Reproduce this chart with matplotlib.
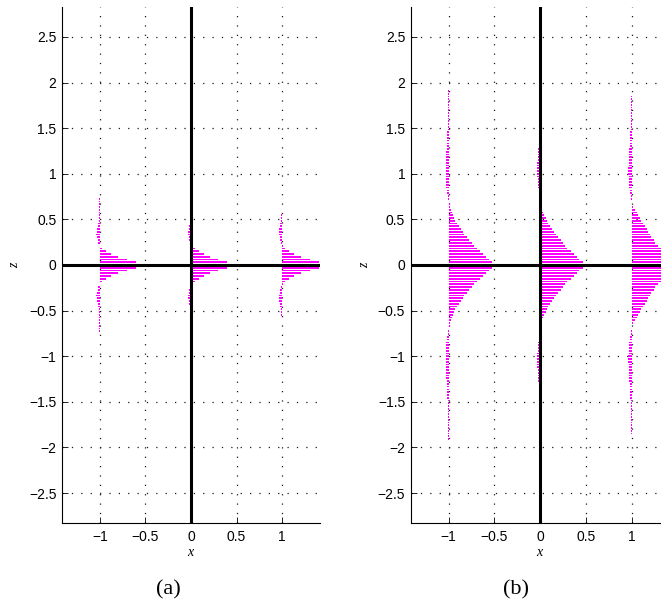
import numpy as np
import matplotlib
matplotlib.use("Agg")
import matplotlib.pyplot as plt
from matplotlib.ticker import FuncFormatter

# ---------------- data ----------------
stations = [-1.0, 0.0, 1.0]          # x positions of the three profiles
dz = 0.0303                          # spacing of the z levels

# panel (a): profile values for z = 0, dz, 2dz, ... (profiles symmetric in z)
u_a_m1 = [0.45, 0.392, 0.293, 0.205, 0.128, 0.070, 0.029, 0.004, -0.015, -0.025,
          -0.031, -0.037, -0.033, -0.030, -0.024, -0.016, -0.010, -0.010, -0.008, -0.006,
          -0.005, -0.004, -0.004, -0.004, -0.004, -0.003, -0.003, -0.003, -0.003, -0.003,
          -0.002, -0.002, -0.002, -0.002]
u_a_0 = [0.45, 0.395, 0.296, 0.207, 0.140, 0.088, 0.047, 0.010, -0.008, -0.018,
         -0.024, -0.028, -0.028, -0.025, -0.020, -0.014, -0.008, -0.004, -0.002, -0.001,
         0.0, 0.0, 0.0, 0.0, 0.0, 0.0, 0.0, 0.0, 0.0, 0.0,
         0.0, 0.0, 0.0, 0.0]
u_a_p1 = [0.46, 0.405, 0.300, 0.209, 0.132, 0.073, 0.033, 0.007, -0.018, -0.022,
          -0.029, -0.036, -0.037, -0.030, -0.022, -0.022, -0.015, -0.011, -0.008, -0.005,
          -0.004, -0.004, -0.004, -0.003, -0.003, -0.003, -0.003, -0.003, -0.002, -0.002,
          -0.002, 0.0, 0.0, 0.0]

# panel (b)
u_b_m1 = [0.49, 0.473, 0.440, 0.410, 0.378, 0.342, 0.308, 0.277, 0.252, 0.225,
          0.198, 0.172, 0.155, 0.133, 0.112, 0.090, 0.072, 0.063, 0.052, 0.035,
          0.026, 0.016, 0.011, 0.006, -0.004, -0.010, -0.016, -0.020, -0.024, -0.027,
          -0.029, -0.031, -0.032, -0.033, -0.033, -0.033, -0.032, -0.031, -0.029, -0.027,
          -0.025, -0.024, -0.023, -0.021, -0.019, -0.018, -0.016, -0.015, -0.014, -0.012,
          -0.011, -0.011, -0.010, -0.009, -0.008, -0.007, -0.006, -0.005, -0.004, -0.004,
          -0.003, -0.003, -0.002, -0.002, -0.001, -0.001, -0.001]
u_b_0 = [0.48, 0.462, 0.429, 0.400, 0.364, 0.331, 0.298, 0.273, 0.247, 0.222,
         0.193, 0.171, 0.149, 0.127, 0.105, 0.087, 0.073, 0.058, 0.044, 0.033,
         0.025, 0.018, 0.011, 0.007, 0.002, -0.004, -0.010, -0.016, -0.020, -0.024,
         -0.027, -0.029, -0.030, -0.031, -0.031, -0.031, -0.031, -0.030, -0.028, -0.026,
         -0.024, -0.022, -0.020, -0.018, -0.016, -0.014, -0.013, -0.011, -0.010, -0.009,
         -0.008, -0.007, -0.006, -0.005, -0.004, -0.004, -0.003, -0.003, -0.002, -0.002,
         -0.001, -0.001, 0.0, 0.0, 0.0, 0.0, 0.0]
u_b_p1 = [0.53, 0.510, 0.480, 0.445, 0.410, 0.375, 0.330, 0.285, 0.255, 0.238,
          0.215, 0.197, 0.177, 0.162, 0.140, 0.120, 0.100, 0.089, 0.068, 0.053,
          0.032, 0.016, 0.007, 0.002, -0.005, -0.011, -0.017, -0.022, -0.026, -0.029,
          -0.032, -0.034, -0.035, -0.036, -0.036, -0.036, -0.035, -0.034, -0.032, -0.030,
          -0.028, -0.027, -0.025, -0.024, -0.022, -0.020, -0.018, -0.017, -0.015, -0.013,
          -0.012, -0.011, -0.010, -0.009, -0.008, -0.007, -0.006, -0.005, -0.004, -0.004,
          -0.003, -0.003, -0.002, -0.002, -0.001, -0.001, -0.001]

xticks = [-1, -0.5, 0, 0.5, 1]
zticks = [-2.5, -2, -1.5, -1, -0.5, 0, 0.5, 1, 1.5, 2, 2.5]
panel_labels = ["(a)", "(b)"]

MAGENTA = "#ff00ff"
W, H = 661, 605

def full_profile(half):
    half = list(half)
    vals = half[:0:-1] + half
    n = len(half) - 1
    z = np.arange(-n, n + 1) * dz
    return z, np.array(vals)

def fmt(v, pos):
    v = round(v, 6)
    if v == 0:
        return "0"
    return ("%g" % v).replace("-", "\u2212")

fig = plt.figure(figsize=(W / 100, H / 100), dpi=100)

axes_px = [(62, 258), (410.7, 259)]
profiles = [[u_a_m1, u_a_0, u_a_p1], [u_b_m1, u_b_0, u_b_p1]]
label_x = [168, 516]
zero_x = [190.7, 539.3]
zlab_x = [15, 365]

for i, (left, width) in enumerate(axes_px):
    ax = fig.add_axes([left / W, 82 / H, width / W, 516 / H])
    for xs, half in zip(stations, profiles[i]):
        z, u = full_profile(half)
        ax.barh(z, u, left=xs, height=0.019, color=MAGENTA, linewidth=0, zorder=2)
    ax.axvline(0, color="k", lw=2.2, zorder=4)
    ax.axhline(0, color="k", lw=2.2, zorder=4)
    ax.set_xlim(-np.sqrt(2), np.sqrt(2))
    ax.set_ylim(-2 * np.sqrt(2), 2 * np.sqrt(2))
    ax.set_xticks(xticks)
    ax.set_yticks(zticks)
    ax.xaxis.set_major_formatter(FuncFormatter(fmt))
    ax.yaxis.set_major_formatter(FuncFormatter(fmt))
    ax.grid(True, linestyle=(0, (1, 6.5)), color="0.1", lw=0.9, zorder=1)
    ax.set_axisbelow(True)
    for s in ["top", "right"]:
        ax.spines[s].set_visible(False)
    for s in ["left", "bottom"]:
        ax.spines[s].set_linewidth(0.8)
    ax.tick_params(direction="in", length=4, width=0.6, labelsize=10, pad=4)
    ax.tick_params(axis="x", pad=5)
    for lab in ax.get_xticklabels() + ax.get_yticklabels():
        lab.set_family("Liberation Sans")
    fig.text(zero_x[i] / W, 1 - 553 / H, "x", ha="center", va="center",
             family="Liberation Serif", style="italic", fontsize=10)
    fig.text(zlab_x[i] / W, 1 - 265 / H, "z", ha="center", va="center", rotation=90,
             family="Liberation Serif", style="italic", fontsize=10)
    fig.text(label_x[i] / W, 1 - 590 / H, panel_labels[i], ha="center", va="center",
             family="Liberation Serif", fontsize=16)

fig.savefig("out.png", dpi=100)
